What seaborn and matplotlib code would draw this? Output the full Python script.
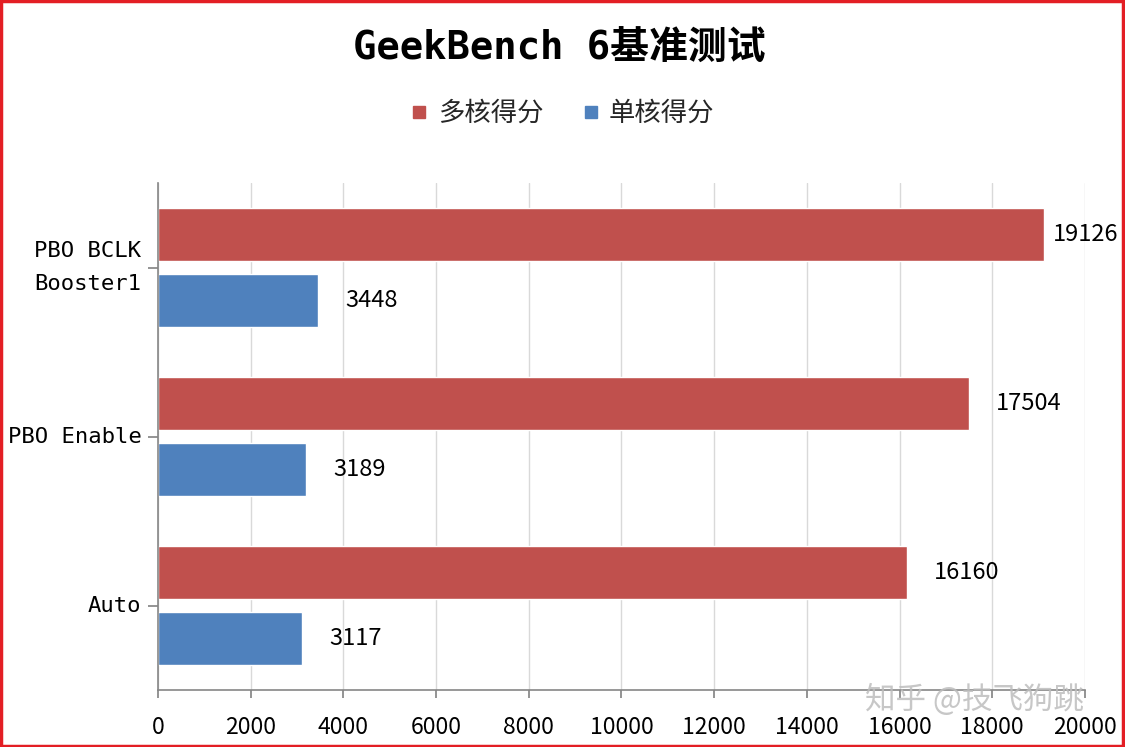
import matplotlib
matplotlib.use("Agg")
import matplotlib.pyplot as plt
import seaborn as sns
import pandas as pd
from matplotlib.patches import Rectangle
from matplotlib.lines import Line2D

categories = ["PBO BCLK\nBooster1", "PBO Enable", "Auto"]
multi_core = [19126, 17504, 16160]
single_core = [3448, 3189, 3117]
series_names = ["多核得分", "单核得分"]
x_ticks = list(range(0, 20001, 2000))
title = "GeekBench 6基准测试"
watermark = "知乎 @技飞狗跳"

colors = ["#C0504D", "#4F81BD"]

df = pd.DataFrame({
    "cat": categories * 2,
    "val": multi_core + single_core,
    "series": [series_names[0]] * 3 + [series_names[1]] * 3,
})

sns.set_theme(style="white")
plt.rcParams["font.family"] = ["Noto Sans CJK SC", "DejaVu Sans"]

fig = plt.figure(figsize=(11.25, 7.47), dpi=100)
ax = fig.add_axes([0.1404, 0.0763, 0.8240, 0.6787])

sns.barplot(data=df, y="cat", x="val", hue="series", order=categories,
            hue_order=series_names, palette=colors, orient="h",
            width=0.78, gap=0.19, ax=ax, legend=False, saturation=1)

ax.set_xlim(0, 20000)
ax.set_ylim(2.5, -0.5)
ax.set_xticks(x_ticks)
ax.set_xticklabels([str(t) for t in x_ticks], fontsize=16.5)
ax.set_xlabel("")
ax.set_ylabel("")
ax.xaxis.grid(True, color="#D9D9D9", linewidth=1)
ax.set_axisbelow(True)
for s in ["top", "right"]:
    ax.spines[s].set_visible(False)
for s in ["left", "bottom"]:
    ax.spines[s].set_color("#868686")
    ax.spines[s].set_linewidth(1.2)
ax.tick_params(axis="x", bottom=True, length=6, color="#868686", pad=13, labelcolor="black")
ax.tick_params(axis="y", left=True, length=7, color="#868686", pad=5, labelcolor="black")
ax.set_yticks(range(len(categories)))
ax.set_yticklabels(categories, fontsize=16, family=["DejaVu Sans Mono", "Noto Sans CJK SC"],
                   linespacing=1.85)
for lbl in ax.get_yticklabels():
    lbl.set_va("center")

# value labels
for container in ax.containers:
    for bar in container:
        w = bar.get_width()
        yc = bar.get_y() + bar.get_height() / 2
        off = 6 if w > 0.93 * 20000 else 19.5
        ax.annotate(f"{int(round(w))}", xy=(w, yc), xytext=(off, 0),
                    textcoords="offset points", va="center", ha="left",
                    fontsize=17, color="black")

fig.text(0.497, 0.934, title, ha="center", va="center", fontsize=28,
         fontweight="bold", color="black",
         family=["DejaVu Sans Mono", "Noto Sans CJK SC"])

handles = [Line2D([0], [0], marker="s", linestyle="", markersize=9,
                  markerfacecolor=c, markeredgecolor=c) for c in colors]
fig.legend(handles, series_names, loc="center", bbox_to_anchor=(0.498, 0.848),
           ncol=2, frameon=False, fontsize=19, handletextpad=0.2,
           columnspacing=1.3, handlelength=1.0)

fig.text(0.866, 0.063, watermark, ha="center", va="center", fontsize=22,
         color="#BDBDBD", alpha=0.85)

fig.patches.append(Rectangle((0.001, 0.002), 0.997, 0.996, transform=fig.transFigure,
                             fill=False, edgecolor="#E31E24", linewidth=2.5))

fig.savefig("out.png", dpi=100)
